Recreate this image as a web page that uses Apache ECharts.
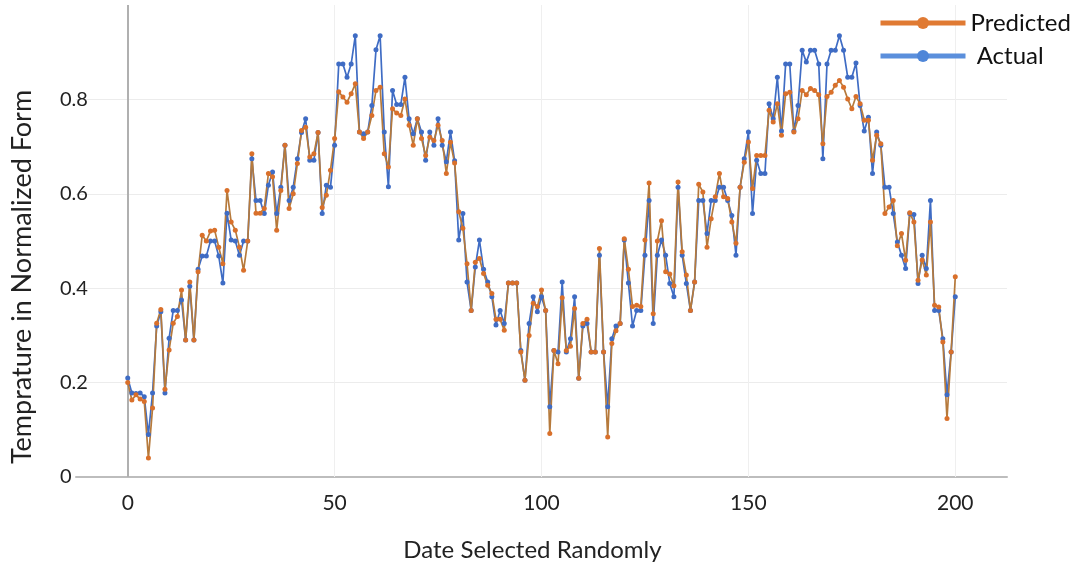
<!DOCTYPE html>
<html>
<head>
<meta charset="utf-8">
<script src="https://cdn.jsdelivr.net/npm/echarts@6/dist/echarts.min.js"></script>
<style>
  html, body { margin: 0; padding: 0; background: #fff; }
  #chart { width: 1078px; height: 570px; }
</style>
</head>
<body>
<div id="chart"></div>
<script>
// values, one per day index 0..200
var predicted = [
  0.20, 0.163, 0.174, 0.165, 0.16, 0.04, 0.146, 0.326, 0.355, 0.186,
  0.269, 0.326, 0.34, 0.396, 0.29, 0.413, 0.29, 0.435, 0.512, 0.50,
  0.521, 0.523, 0.487, 0.452, 0.607, 0.54, 0.523, 0.487, 0.438, 0.50,
  0.685, 0.559, 0.559, 0.569, 0.643, 0.636, 0.523, 0.607, 0.703, 0.569,
  0.60, 0.664, 0.734, 0.741, 0.678, 0.685, 0.73, 0.571, 0.597, 0.65,
  0.717, 0.816, 0.805, 0.794, 0.812, 0.833, 0.731, 0.717, 0.731, 0.766,
  0.819, 0.826, 0.685, 0.657, 0.78, 0.771, 0.766, 0.801, 0.745, 0.703,
  0.759, 0.717, 0.681, 0.72, 0.713, 0.745, 0.713, 0.643, 0.709, 0.665,
  0.562, 0.527, 0.452, 0.353, 0.455, 0.463, 0.431, 0.406, 0.389, 0.334,
  0.334, 0.311, 0.411, 0.411, 0.411, 0.265, 0.205, 0.30, 0.368, 0.361,
  0.396, 0.353, 0.092, 0.268, 0.24, 0.38, 0.268, 0.277, 0.357, 0.209,
  0.325, 0.334, 0.265, 0.265, 0.484, 0.265, 0.085, 0.283, 0.31, 0.325,
  0.505, 0.44, 0.361, 0.364, 0.361, 0.502, 0.623, 0.346, 0.50, 0.543,
  0.435, 0.43, 0.405, 0.625, 0.477, 0.428, 0.353, 0.413, 0.62, 0.604,
  0.487, 0.547, 0.594, 0.643, 0.594, 0.59, 0.54, 0.495, 0.614, 0.667,
  0.71, 0.611, 0.681, 0.681, 0.681, 0.777, 0.752, 0.791, 0.724, 0.812,
  0.815, 0.731, 0.759, 0.819, 0.81, 0.823, 0.819, 0.81, 0.706, 0.806,
  0.815, 0.83, 0.84, 0.826, 0.801, 0.78, 0.806, 0.791, 0.756, 0.756,
  0.671, 0.724, 0.706, 0.558, 0.572, 0.586, 0.49, 0.516, 0.459, 0.56,
  0.54, 0.417, 0.46, 0.428, 0.54, 0.364, 0.36, 0.286, 0.124, 0.265,
  0.424
];
var actual = [
  0.21, 0.178, 0.177, 0.178, 0.17, 0.09, 0.178, 0.32, 0.35, 0.178,
  0.294, 0.353, 0.353, 0.375, 0.29, 0.404, 0.29, 0.44, 0.468, 0.468,
  0.50, 0.50, 0.468, 0.411, 0.559, 0.502, 0.50, 0.47, 0.50, 0.50,
  0.674, 0.586, 0.586, 0.558, 0.618, 0.646, 0.558, 0.614, 0.703, 0.586,
  0.614, 0.674, 0.73, 0.759, 0.671, 0.671, 0.73, 0.558, 0.618, 0.614,
  0.703, 0.875, 0.875, 0.847, 0.875, 0.935, 0.731, 0.727, 0.731, 0.787,
  0.905, 0.935, 0.731, 0.615, 0.819, 0.789, 0.789, 0.847, 0.759, 0.727,
  0.759, 0.731, 0.671, 0.731, 0.703, 0.759, 0.703, 0.668, 0.731, 0.67,
  0.502, 0.558, 0.413, 0.353, 0.445, 0.502, 0.44, 0.413, 0.382, 0.322,
  0.353, 0.325, 0.411, 0.411, 0.411, 0.268, 0.205, 0.325, 0.382, 0.35,
  0.382, 0.353, 0.149, 0.268, 0.265, 0.413, 0.265, 0.293, 0.382, 0.209,
  0.32, 0.325, 0.265, 0.265, 0.47, 0.265, 0.149, 0.293, 0.32, 0.325,
  0.502, 0.411, 0.32, 0.353, 0.353, 0.47, 0.586, 0.325, 0.47, 0.502,
  0.47, 0.41, 0.382, 0.614, 0.47, 0.41, 0.353, 0.413, 0.586, 0.586,
  0.516, 0.586, 0.586, 0.614, 0.614, 0.586, 0.554, 0.47, 0.614, 0.674,
  0.731, 0.558, 0.671, 0.643, 0.643, 0.791, 0.759, 0.847, 0.733, 0.875,
  0.875, 0.733, 0.787, 0.904, 0.879, 0.904, 0.904, 0.875, 0.674, 0.875,
  0.904, 0.904, 0.935, 0.904, 0.847, 0.847, 0.877, 0.787, 0.733, 0.762,
  0.643, 0.731, 0.703, 0.614, 0.614, 0.558, 0.498, 0.47, 0.442, 0.558,
  0.556, 0.41, 0.47, 0.442, 0.586, 0.353, 0.353, 0.293, 0.174, 0.265,
  0.382
];
var xTickLabels = [0, 50, 100, 150, 200];
var vGridAt = [50, 100, 150, 200];

var font = 'Lato, "Open Sans", sans-serif';
var orange = '#d9702b';
var blue = '#3f6cc4';

var chart = echarts.init(document.getElementById('chart'), null, { renderer: 'canvas' });

chart.setOption({
  animation: false,
  backgroundColor: '#fff',
  textStyle: { fontFamily: font },
  grid: { left: 76, right: 71, top: 5, bottom: 93, outerBoundsMode: 'none' },
  legend: {
    orient: 'vertical',
    left: 873,
    top: 6,
    itemWidth: 85,
    itemHeight: 15,
    itemGap: 9,
    data: [
      { name: 'Predicted', lineStyle: { color: '#e07a33' }, itemStyle: { color: '#e07a33' } },
      { name: 'Actual', lineStyle: { color: '#5b8fdc' }, itemStyle: { color: '#4f86d8' } }
    ],
    formatter: function (n) { return n === 'Actual' ? ' ' + n : n; },
    lineStyle: { width: 5 },
    textStyle: { fontSize: 24, color: '#111', fontFamily: font }
  },
  xAxis: {
    type: 'value',
    min: -12.5,
    max: 212.5,
    interval: 12.5,
    name: 'Date Selected Randomly',
    nameLocation: 'middle',
    nameGap: 61,
    nameTextStyle: { fontSize: 24, color: '#222', fontFamily: font, padding: [0, 18, 0, 0] },
    axisLine: { lineStyle: { color: '#bdbdbd', width: 2 } },
    axisTick: { show: false },
    splitLine: { show: false },
    axisLabel: {
      fontSize: 21, color: '#222', margin: 16,
      formatter: function (v) { return xTickLabels.indexOf(v) >= 0 ? String(v) : ''; }
    }
  },
  yAxis: {
    type: 'value',
    min: 0,
    max: 1,
    interval: 0.2,
    name: 'Temprature in Normalized Form',
    nameLocation: 'middle',
    nameGap: 40,
    nameTextStyle: { fontSize: 27, color: '#222', fontFamily: font, padding: [0, 72, 0, 0] },
    axisLine: { show: false },
    axisTick: { show: false },
    splitLine: { showMaxLine: false, lineStyle: { color: '#ececec', width: 1 } },
    axisLabel: {
      fontSize: 20, color: '#222', margin: 16, align: 'left',
      showMaxLabel: false
    }
  },
  series: [
    {
      name: 'Actual',
      type: 'line',
      data: actual.map(function (v, i) { return [i, v]; }),
      symbol: 'circle',
      symbolSize: 5,
      showSymbol: true,
      lineStyle: { color: blue, width: 1.7 },
      itemStyle: { color: blue },
      emphasis: { disabled: true },
      markLine: {
        silent: true,
        symbol: 'none',
        z: 1,
        label: { show: false },
        data: [{ xAxis: 0, lineStyle: { color: '#b0b0b0', width: 2, type: 'solid' } }].concat(
          vGridAt.map(function (x) {
            return { xAxis: x, lineStyle: { color: '#efefef', width: 1, type: 'solid' } };
          })
        )
      }
    },
    {
      name: 'Predicted',
      type: 'line',
      data: predicted.map(function (v, i) { return [i, v]; }),
      symbol: 'circle',
      symbolSize: 5,
      showSymbol: true,
      lineStyle: { color: '#b67a3c', width: 1.7 },
      itemStyle: { color: orange },
      emphasis: { disabled: true }
    }
  ]
});
</script>
</body>
</html>
